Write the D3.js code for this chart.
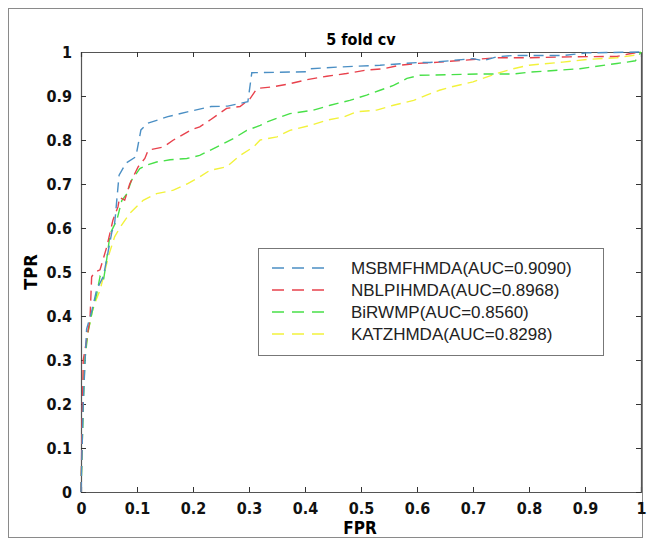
<!DOCTYPE html>
<html>
<head>
<meta charset="utf-8">
<script src="https://cdn.jsdelivr.net/npm/d3@7"></script>
<style>
  body { margin: 0; background: #fff; }
  .tick text { font-family: "DejaVu Sans Condensed", "DejaVu Sans", sans-serif; font-stretch: condensed; font-weight: bold; font-size: 16px; fill: #111; }
</style>
</head>
<body>
<svg id="chart" width="651" height="546"></svg>
<script>
// ROC points, [fpr, tpr]
var msbmfhmda = [[0,0],[0.002,0.1],[0.004,0.2],[0.007,0.29],[0.01,0.37],[0.019,0.41],[0.028,0.46],[0.04,0.49],[0.049,0.55],[0.055,0.59],[0.06,0.61],[0.062,0.635],[0.064,0.665],[0.068,0.72],[0.08,0.747],[0.098,0.762],[0.107,0.823],[0.119,0.838],[0.155,0.853],[0.19,0.864],[0.232,0.876],[0.262,0.877],[0.298,0.887],[0.305,0.953],[0.403,0.955],[0.41,0.962],[0.463,0.966],[0.534,0.97],[0.6,0.976],[0.623,0.976],[0.7,0.985],[0.718,0.98],[0.742,0.989],[0.771,0.992],[0.86,0.992],[0.903,0.998],[1,1]]
var nblpihmda = [[0,0],[0.002,0.15],[0.004,0.3],[0.01,0.345],[0.013,0.37],[0.016,0.39],[0.019,0.489],[0.025,0.5],[0.034,0.505],[0.046,0.557],[0.052,0.59],[0.057,0.618],[0.066,0.648],[0.069,0.67],[0.078,0.663],[0.087,0.7],[0.102,0.739],[0.114,0.758],[0.12,0.777],[0.147,0.784],[0.165,0.8],[0.197,0.823],[0.212,0.83],[0.23,0.845],[0.248,0.861],[0.26,0.872],[0.284,0.876],[0.302,0.894],[0.314,0.917],[0.344,0.921],[0.373,0.928],[0.403,0.937],[0.439,0.945],[0.474,0.951],[0.51,0.959],[0.54,0.962],[0.57,0.97],[0.6,0.974],[0.64,0.977],[0.742,0.987],[0.8,0.987],[0.873,0.989],[0.957,0.99],[0.98,0.996],[1,1]]
var birwmp = [[0,0],[0.002,0.1],[0.004,0.2],[0.007,0.3],[0.012,0.36],[0.02,0.41],[0.028,0.45],[0.034,0.49],[0.04,0.48],[0.046,0.53],[0.052,0.587],[0.064,0.618],[0.073,0.663],[0.082,0.678],[0.09,0.708],[0.105,0.735],[0.117,0.743],[0.135,0.75],[0.159,0.755],[0.189,0.758],[0.212,0.765],[0.242,0.784],[0.272,0.803],[0.296,0.822],[0.32,0.833],[0.332,0.841],[0.373,0.86],[0.415,0.868],[0.445,0.879],[0.48,0.89],[0.51,0.902],[0.534,0.913],[0.558,0.924],[0.582,0.94],[0.605,0.947],[0.712,0.95],[0.772,0.95],[0.8,0.954],[0.891,0.962],[0.957,0.974],[0.975,0.977],[0.99,0.98],[1,1]]
var katzhmda = [[0,0],[0.002,0.1],[0.004,0.2],[0.006,0.3],[0.012,0.36],[0.02,0.41],[0.028,0.44],[0.034,0.459],[0.04,0.489],[0.05,0.54],[0.06,0.58],[0.07,0.602],[0.087,0.633],[0.111,0.663],[0.135,0.678],[0.165,0.686],[0.189,0.7],[0.212,0.716],[0.23,0.731],[0.26,0.739],[0.284,0.765],[0.308,0.784],[0.32,0.8],[0.35,0.807],[0.373,0.822],[0.409,0.833],[0.439,0.845],[0.468,0.852],[0.492,0.864],[0.528,0.868],[0.558,0.879],[0.594,0.89],[0.617,0.902],[0.64,0.913],[0.659,0.92],[0.7,0.932],[0.742,0.951],[0.772,0.962],[0.8,0.97],[0.86,0.977],[0.903,0.983],[0.957,0.987],[0.995,0.994],[1,1]]

var seriesNames = ["MSBMFHMDA(AUC=0.9090)", "NBLPIHMDA(AUC=0.8968)", "BiRWMP(AUC=0.8560)", "KATZHMDA(AUC=0.8298)"]
var seriesData = [msbmfhmda, nblpihmda, birwmp, katzhmda]
var seriesColors = ["#4b8fc4", "#e8414c", "#48e048", "#f2f23c"]
var tickValues = [0, 0.1, 0.2, 0.3, 0.4, 0.5, 0.6, 0.7, 0.8, 0.9, 1]

var svg = d3.select("#chart")
var plotLeft = 81, plotRight = 641, plotTop = 52, plotBottom = 492

var x = d3.scaleLinear().domain([0, 1]).range([plotLeft, plotRight])
var y = d3.scaleLinear().domain([0, 1]).range([plotBottom, plotTop])

// outer frame round the figure
svg.append("rect")
  .attr("x", 8.5).attr("y", 8.5)
  .attr("width", 634).attr("height", 529)
  .attr("fill", "none").attr("stroke", "#8a8a8a")

var fmt = function (d) { return d === 0 || d === 1 ? d3.format("d")(d) : d3.format(".1f")(d) }

svg.append("g")
  .attr("transform", "translate(0," + plotBottom + ")")
  .call(d3.axisBottom(x).tickValues(tickValues).tickSize(-5).tickPadding(11).tickFormat(fmt))
svg.append("g")
  .attr("transform", "translate(" + plotLeft + ",0)")
  .call(d3.axisLeft(y).tickValues(tickValues).tickSize(-5).tickPadding(9).tickFormat(fmt))
svg.append("g")
  .attr("transform", "translate(0," + plotTop + ")")
  .call(d3.axisTop(x).tickValues(tickValues).tickSize(-5).tickFormat(""))
svg.append("g")
  .attr("transform", "translate(" + plotRight + ",0)")
  .call(d3.axisRight(y).tickValues(tickValues).tickSize(-5).tickFormat(""))

svg.selectAll(".domain").attr("stroke", "#555").attr("stroke-width", 1.2)
svg.selectAll(".tick line").attr("stroke", "#333")

var line = d3.line()
  .x(function (d) { return x(d[0]) })
  .y(function (d) { return y(d[1]) })

svg.append("g")
  .selectAll("path")
  .data(seriesData.slice().reverse())
  .enter()
  .append("path")
  .attr("d", line)
  .attr("fill", "none")
  .attr("stroke", function (d, i) { return seriesColors[3 - i] })
  .attr("stroke-width", 1.4)
  .attr("stroke-dasharray", "10,6")

// title and axis labels
var labelFont = "'DejaVu Sans Condensed', 'DejaVu Sans', sans-serif"
svg.append("text")
  .attr("x", 361).attr("y", 45)
  .attr("text-anchor", "middle")
  .style("font-family", labelFont).style("font-stretch", "condensed")
  .style("font-weight", "bold").style("font-size", "16px")
  .text("5 fold cv")
svg.append("text")
  .attr("x", 360).attr("y", 534)
  .attr("text-anchor", "middle")
  .style("font-family", labelFont).style("font-stretch", "condensed")
  .style("font-weight", "bold").style("font-size", "17px")
  .text("FPR")
svg.append("text")
  .attr("transform", "translate(37,272) rotate(-90)")
  .attr("text-anchor", "middle")
  .style("font-family", labelFont).style("font-stretch", "condensed")
  .style("font-weight", "bold").style("font-size", "18px")
  .text("TPR")

// legend
var legend = svg.append("g")
legend.append("rect")
  .attr("x", 258.5).attr("y", 248.5)
  .attr("width", 345).attr("height", 107)
  .attr("fill", "#fff").attr("stroke", "#777")

var rows = legend.selectAll("g.row")
  .data(seriesNames)
  .enter()
  .append("g")
  .attr("class", "row")
  .attr("transform", function (d, i) { return "translate(0," + (268 + i * 22) + ")" })

rows.append("line")
  .attr("x1", 272).attr("x2", 332)
  .attr("stroke", function (d, i) { return seriesColors[i] })
  .attr("stroke-width", 1.4)
  .attr("stroke-dasharray", "12,8")

rows.append("text")
  .attr("x", 351).attr("y", 6)
  .style("font-family", "'Liberation Sans', Arial, sans-serif")
  .style("font-size", "17px")
  .style("fill", "#222")
  .text(function (d) { return d })
</script>
</body>
</html>
